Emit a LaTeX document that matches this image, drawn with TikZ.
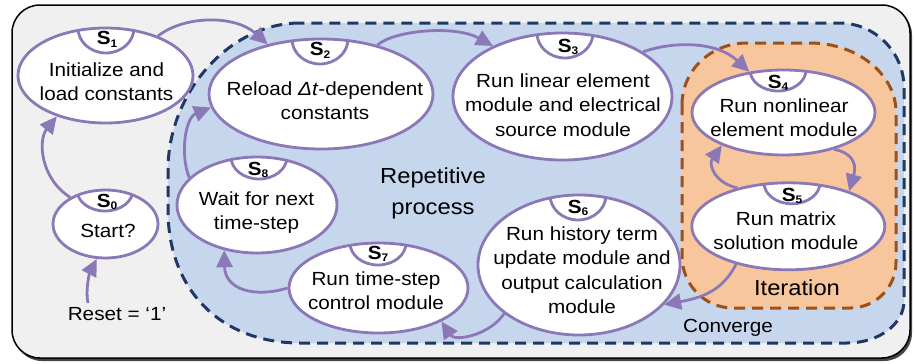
\documentclass[tikz,border=0pt]{standalone}
\usepackage{fontspec}
\setmainfont{Liberation Sans}[FakeStretch=1.09]
\usetikzlibrary{shapes.geometric,arrows.meta}

\definecolor{panel}{RGB}{240,240,240}
\definecolor{shadowgray}{RGB}{70,70,70}
\definecolor{repfill}{RGB}{198,214,236}
\definecolor{repline}{RGB}{31,56,100}
\definecolor{itfill}{RGB}{248,198,156}
\definecolor{itline}{RGB}{158,80,25}
\definecolor{purp}{RGB}{139,120,182}

% multi-line text, anchored on the baseline of its first line
\newcommand{\ml}[1]{\begin{tabular}[t]{@{}c@{}}#1\end{tabular}}
% state label S with its index
\newcommand{\slab}[1]{\textbf{S}\raisebox{-2pt}{\fontsize{11}{11}\selectfont\bfseries #1}}
% half-disc tab hanging from the top of a state ellipse:
% centre x, centre y, x radius, y radius, tab x, tab depth
\newcommand{\statetab}[6]{%
  \begin{scope}
    \clip (#1,#2) ellipse [x radius=#3, y radius=#4];
    \draw[edgeline] (#5,#2-#4) ellipse [x radius=28, y radius=#6];
  \end{scope}}

\tikzset{
  edgeline/.style={draw=purp, line width=2.8pt},
  stbox/.style={ellipse, draw=purp, fill=white, line width=2.8pt, inner sep=0pt},
  flow/.style={draw=purp, line width=2.8pt, -{Triangle[length=17pt,width=16pt]}},
  regionline/.style={line width=3pt, dash pattern=on 11pt off 7pt},
  txt/.style={font=\fontsize{19}{24.5}\selectfont, inner sep=0pt, anchor=base},
  bigtxt/.style={font=\fontsize{21.8}{28}\selectfont, inner sep=0pt, anchor=base},
  tablab/.style={font=\fontsize{19}{19}\selectfont, inner sep=0pt, anchor=base},
}

\begin{document}
\begin{tikzpicture}[x=1pt,y=-1pt]
\useasboundingbox (0,0) rectangle (914,364);

% outer panel with its shadow
\fill[shadowgray, rounded corners=28pt] (14,7) rectangle (912,361);
\filldraw[fill=panel, draw=black, line width=1.5pt, rounded corners=28pt] (12,5) rectangle (910,358);

% repetitive-process region
\filldraw[fill=repfill, draw=repline, regionline]
  (300,23) .. controls (230,23) and (168,92) .. (168,170)
  -- (168,210) .. controls (168,290) and (221,343) .. (300,343)
  -- (847,343) .. controls (879,343) and (904,324) .. (904,301)
  -- (904,88) .. controls (904,52) and (875,23) .. (839,23) -- cycle;

% iteration region
\filldraw[fill=itfill, draw=itline, regionline]
  (682,105) .. controls (682,70) and (711,43) .. (747,43)
  -- (810,43) .. controls (858,43) and (896,75) .. (896,112)
  -- (896,262) .. controls (896,288) and (875,308) .. (850,308)
  -- (733,308) .. controls (705,308) and (682,285) .. (682,256) -- cycle;

\node[bigtxt] (rep) at (433,183) {\ml{Repetitive\\[3.5pt]process}};
\node[bigtxt] (iter) at (797,295) {Iteration};

% states
\node[stbox, minimum width=105pt, minimum height=68pt] (s0) at (105.5,224) {};
\node[stbox, minimum width=175pt, minimum height=95pt] (s1) at (105.5,75.5) {};
\node[stbox, minimum width=224pt, minimum height=110pt] (s2) at (321,94) {};
\node[stbox, minimum width=219pt, minimum height=127pt] (s3) at (562.5,96.5) {};
\node[stbox, minimum width=183pt, minimum height=85pt] (s4) at (783.5,112.5) {};
\node[stbox, minimum width=193pt, minimum height=87pt] (s5) at (788.3,226.3) {};
\node[stbox, minimum width=202pt, minimum height=140pt] (s6) at (579,265) {};
\node[stbox, minimum width=179pt, minimum height=90pt] (s7) at (378.5,288) {};
\node[stbox, minimum width=160pt, minimum height=96pt] (s8) at (257,205) {};

\statetab{105.5}{224}{52.5}{34}{105}{21}
\statetab{105.5}{75.5}{87.5}{47.5}{106}{25}
\statetab{321}{94}{112}{55}{320}{25}
\statetab{562.5}{96.5}{109.5}{63.5}{565}{25}
\statetab{783.5}{112.5}{91.5}{42.5}{778}{21}
\statetab{788.3}{226.3}{96.5}{43.5}{792}{21}
\statetab{579}{265}{101}{70}{578}{25}
\statetab{378.5}{288}{89.5}{45}{378}{22}
\statetab{257}{205}{80}{48}{259}{22}

\node[tablab] (l0) at (107,207) {\slab{0}};
\node[tablab] (l1) at (107,45) {\slab{1}};
\node[tablab] (l2) at (320,56) {\slab{2}};
\node[tablab] (l3) at (568,52) {\slab{3}};
\node[tablab] (l4) at (778,88) {\slab{4}};
\node[tablab] (l5) at (792,201) {\slab{5}};
\node[tablab] (l6) at (578,213) {\slab{6}};
\node[tablab] (l7) at (378,259) {\slab{7}};
\node[tablab] (l8) at (258,175) {\slab{8}};

\node[txt] (t0) at (108,237) {Start?};
\node[txt] (t1) at (106.5,76) {\ml{Initialize and\\load constants}};
\node[txt] (t2) at (325,95) {\ml{Reload \textit{Δt}-dependent\\constants}};
\node[txt] (t3) at (563,87) {\ml{Run linear element\\module and electrical\\source module}};
\node[txt] (t4) at (784,112) {\ml{Run nonlinear\\element module}};
\node[txt] (t5) at (786,225) {\ml{Run matrix\\solution module}};
\node[txt] (t6) at (582,240) {\ml{Run history term\\update module and\\output calculation\\module}};
\node[txt] (t7) at (376,285) {\ml{Run time-step\\control module}};
\node[txt] (t8) at (256.5,205) {\ml{Wait for next\\time-step}};

\node[txt] (conv) at (728,332) {Converge};
\node[txt] (reset) at (117,320) {Reset = ‘1’};
\coordinate (rst) at (88,303);

% transitions
\draw[flow] (rst) .. controls (85,290) and (90,272) .. (s0.256);
\draw[flow] (s0.143) .. controls (40,178) and (38,140) .. (s1.220);
\draw[flow] (s1.37) .. controls (185,15) and (235,15) .. (s2.137);
\draw[flow] (s2.41) .. controls (395,30) and (455,25) .. (s3.144);
\draw[flow] (s3.29) .. controls (670,42) and (715,40) .. (s4.130);
\draw[flow] (s4.324) .. controls (848,152) and (858,160) .. (s5.30);
\draw[flow] (s5.143) .. controls (715,183) and (708,165) .. (s4.208);
\draw[flow] (s5.216) .. controls (722,292) and (700,298) .. (s6.335);
\draw[flow] (s6.213) .. controls (490,335) and (455,342) .. (s7.332);
\draw[flow] (s7.180) .. controls (255,298) and (225,290) .. (s8.234);
\draw[flow] (s8.158) .. controls (180,155) and (185,118) .. (s2.187);
\end{tikzpicture}
\end{document}
